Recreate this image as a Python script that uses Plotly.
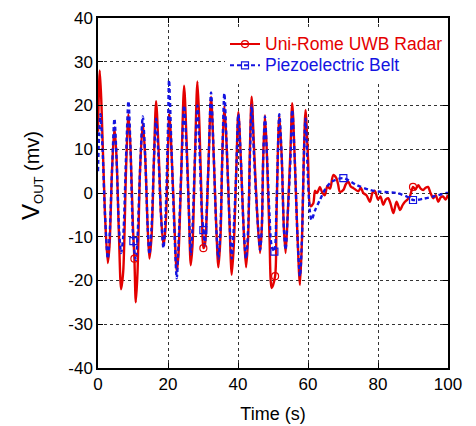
import plotly.graph_objects as go

# ---------------- data ----------------
radar_t = [0, 0.5, 1.0, 2.0, 2.8, 3.3, 4.0, 4.7, 5.3, 6.0, 6.6, 7.2, 8.0, 8.7, 9.3, 10.0, 10.4, 10.8, 11.3,
           12.0, 12.8, 13.5, 14.2, 14.7, 15.3, 16.0, 16.6, 17.3, 18.0, 18.7, 19.3, 20.0, 20.4, 21.5, 22.5, 23.0,
           23.8, 24.6, 25.3, 26.0, 26.5, 27.0, 27.7, 28.4, 29.0, 29.7, 30.1, 30.5, 31.5, 32.3, 33.0, 33.8, 34.4,
           35.0, 35.5, 36.1, 36.8, 37.5, 38.2, 38.8, 39.5, 40.1, 40.8, 41.6, 42.3, 42.9, 43.4, 43.9, 44.6, 45.5,
           46.3, 46.8, 47.2, 47.7, 48.3, 49.0, 49.6, 50.6, 51.0, 51.8, 52.5, 53.1, 53.6, 54.2, 55.0, 55.5, 56.2,
           57.0, 57.7, 58.3, 58.8, 59.3, 60.0, 60.7, 61.5, 62.0, 62.6, 63.4, 64.0, 64.8, 65.5, 66.3, 67.2, 68.1,
           68.6, 69.1, 70.1, 70.8, 71.5, 72.2, 73.0, 74.4, 75.1, 75.8, 76.7, 77.7, 78.4, 79.1, 80.0, 80.7, 81.5,
           82.2, 82.9, 83.6, 84.4, 85.3, 86.3, 87.0, 87.7, 88.4, 89.1, 90.0, 90.7, 91.5, 92.2, 92.9, 93.6, 94.3,
           95.0, 95.8, 96.5, 97.2, 97.9, 98.6, 99.3, 100]
radar_v = [14, 28, 20, -5, -16, -12, 5, 15, 8, -10, -22, -18, 5, 18, 10, -8, -15, -25, -18,
           5, 16, 8, -8, -15, -10, 8, 21, 10, -5, -12, -8, 10, 18, 0, -18, -14,
           5, 24.5, 12, -5, -16.5, -12, 8, 25.5, 15, -5, -12.6, -12, 5, 22, 10, -8, -17,
           -10, 8, 20, 10, -5, -18.7, -12, 5, 18.5, 8, -8, -17, -10, 10, 22, 10, -5,
           -13.7, -8, 8, 17.8, 8, -10, -21.7, -19, -5, 17.8, 8, -8, -13.7, -5, 10, 20.5, 8,
           -10, -21, -10, 8, 19, 8, -3, -2.4, 0.5, 0, 1.4, 0.2, -0.5, 1.5, 1, 4.1, 3.4,
           2, 0.3, 0.7, 2, 2.6, 1.5, 1.1, 0.4, 1.2, 0, -0.5, -2, 0, 0.5, -1.5, -0.8, -2.7,
           -1.5, -1.2, -2.5, -4.6, -2, -3.9, -2.8, -2, -1.5, -0.8, 1.4, 0.8, 1.8, 1, 0.7, 1.2, 1.4,
           0, -1.2, -0.5, -2, -1, -0.8, -1.5, -0.4]

belt_t = [0, 0.3, 0.7, 1.3, 2.0, 2.8, 3.3, 4.0, 4.7, 5.3, 6.0, 6.6, 7.2, 8.0, 8.7, 9.3, 10.1, 10.8, 11.3,
          12.0, 12.8, 13.5, 14.2, 14.7, 15.3, 16.0, 16.6, 17.3, 18.0, 18.7, 19.3, 20.0, 20.3, 21.0, 21.8, 22.5,
          23.0, 23.8, 24.6, 25.3, 26.0, 26.5, 27.0, 27.7, 28.4, 29.0, 29.7, 30.1, 30.5, 31.5, 32.3, 33.0, 33.8,
          34.4, 35.0, 35.5, 36.1, 36.8, 37.5, 38.2, 38.8, 39.5, 40.1, 40.8, 41.6, 42.3, 42.9, 43.4, 43.9, 44.6,
          45.5, 46.3, 46.8, 47.2, 47.7, 48.3, 49.0, 49.6, 50.4, 51.0, 51.8, 52.5, 53.1, 53.6, 54.2, 55.0, 55.5,
          56.2, 57.0, 57.7, 58.3, 58.8, 59.3, 60.0, 60.5, 61.0, 62.0, 63.4, 65.0, 66.8, 70.1, 73.9, 77.7, 80.6,
          85.3, 88.2, 90.0, 93.0, 95.8, 99.6, 100]
belt_v = [5, 13, 18, 10, -5, -15, -10, 5, 17, 8, -8, -13.7, -10, 8, 21, 10, -11, -15.3, -10,
          5, 17.5, 8, -8, -14, -8, 8, 17, 8, -5, -12.6, -5, 15, 25.8, 10, -8, -19.5,
          -12, 5, 20, 10, -5, -14, -8, 8, 20, 10, -5, -8.5, -12, 5, 23, 10, -8,
          -15, -8, 8, 22.8, 10, -5, -15, -8, 5, 18, 8, -8, -15, -8, 8, 20, 8,
          -5, -13, -8, 8, 17.5, 8, -5, -12, -13.4, -3, 18, 8, -8, -13, -5, 8, 19,
          8, -10, -19, -10, 8, 17, 3, -4, -6.2, -4, -1.6, 1, 2.6, 3.4, 1.8, 0.7, 0.3,
          0, -0.8, -1.6, -1.3, -0.8, 0, 0]

radar_marker_t = [10.4, 30.1, 50.6, 90.0]
radar_marker_v = [-15, -12.6, -19, 1.4]
belt_marker_t = [10.1, 30.1, 50.4, 70.1, 90.0]
belt_marker_v = [-11, -8.5, -13.4, 3.4, -1.6]

x_ticks = [0, 20, 40, 60, 80, 100]
x_labels = ["0", "20", "40", "60", "80", "100"]
y_ticks = [-40, -30, -20, -10, 0, 10, 20, 30, 40]
y_labels = ["-40", "-30", "-20", "-10", "0", "10", "20", "30", "40"]

RED = "rgb(228,0,0)"
BLUE = "rgb(20,20,225)"
FONT = "Arial, Liberation Sans, sans-serif"

fig = go.Figure()

# lines
fig.add_trace(go.Scatter(x=radar_t, y=radar_v, mode="lines", showlegend=False,
                         line=dict(color=RED, width=2.4, shape="spline", smoothing=0.8)))
fig.add_trace(go.Scatter(x=belt_t, y=belt_v, mode="lines", showlegend=False,
                         line=dict(color=BLUE, width=2.4, dash="4px,3px", shape="spline", smoothing=0.8)))
# markers
fig.add_trace(go.Scatter(x=radar_marker_t, y=radar_marker_v, mode="markers", showlegend=False,
                         marker=dict(symbol="circle-open", size=7, color=RED, line=dict(width=1.2))))
fig.add_trace(go.Scatter(x=belt_marker_t, y=belt_marker_v, mode="markers", showlegend=False,
                         marker=dict(symbol="square-open", size=7, color=BLUE, line=dict(width=1.2))))
# legend entries
fig.add_trace(go.Scatter(x=[None], y=[None], mode="lines+markers",
                         name='<span style="color:rgb(228,0,0);font-size:17.5px">Uni-Rome UWB Radar</span>',
                         line=dict(color=RED, width=2),
                         marker=dict(symbol="circle-open", size=7, color=RED, line=dict(width=1.2))))
fig.add_trace(go.Scatter(x=[None], y=[None], mode="lines+markers",
                         name='<span style="color:rgb(20,20,225);font-size:17.5px">Piezoelectric Belt</span>',
                         line=dict(color=BLUE, width=2, dash="4px,3px"),
                         marker=dict(symbol="square-open", size=7, color=BLUE, line=dict(width=1.2))))

axis_common = dict(showline=True, linecolor="black", linewidth=1.5, mirror="ticks",
                   ticks="inside", ticklen=5, tickcolor="black", tickwidth=1,
                   showgrid=True, gridcolor="#333", griddash="dot", gridwidth=1,
                   zeroline=False, tickfont=dict(family=FONT, size=17, color="black"))

fig.update_xaxes(range=[0, 100], tickvals=x_ticks, ticktext=x_labels, automargin=False,
                 title=dict(text="Time (s)", font=dict(family=FONT, size=18, color="black"), standoff=14),
                 **axis_common)
fig.update_yaxes(range=[-40, 40], tickvals=y_ticks, ticktext=y_labels, automargin=False, **axis_common)

fig.add_annotation(text='<span style="font-size:24px">V</span><sub><span style="font-size:13px">OUT</span></sub> (mv)',
                   textangle=-90, xref="paper", yref="paper", x=-0.19, y=0.55,
                   xanchor="center", yanchor="middle", showarrow=False,
                   font=dict(family=FONT, size=20, color="black"))

fig.update_layout(
    width=468, height=418,
    margin=dict(l=90, r=28, t=10, b=58),
    paper_bgcolor="white", plot_bgcolor="white",
    font=dict(family=FONT, size=17, color="black"),
    legend=dict(x=1.0, y=0.97, xanchor="right", yanchor="top", bgcolor="white",
                font=dict(family=FONT, size=14), borderwidth=0, tracegroupgap=0,
                itemwidth=30),
)

fig.write_html("out.html")
